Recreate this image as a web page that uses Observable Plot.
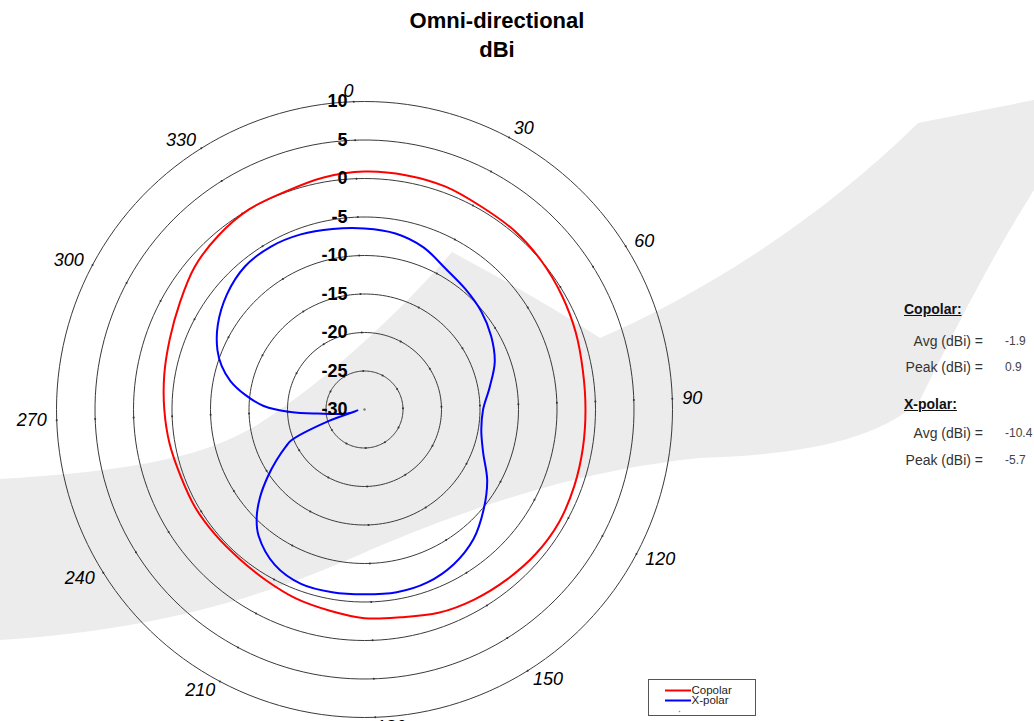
<!DOCTYPE html>
<html><head><meta charset="utf-8">
<script src="https://cdn.jsdelivr.net/npm/d3@7"></script>
<script src="https://cdn.jsdelivr.net/npm/@observablehq/plot@0.6"></script>
<style>
body{margin:0;background:#fff;font-family:Arial,"Liberation Sans",sans-serif;}
#wrap{position:relative;width:1034px;height:721px;overflow:hidden;background:#fff;}
#bg,#chart{position:absolute;left:0;top:0;}
.t{position:absolute;white-space:nowrap;}
.title{left:0;width:994px;text-align:center;font-weight:bold;font-size:22px;color:#000;line-height:29px;}
.hd{font-weight:bold;font-size:14px;text-decoration:underline;color:#111;}
.lb{font-size:14px;color:#333;text-align:right;width:90px;}
.val{font-size:12px;color:#444;}
#legend{position:absolute;left:648px;top:679px;width:106px;height:35px;border:1px solid #555;background:#fff;}
</style></head>
<body><div id="wrap">
<svg id="bg" width="1034" height="721">
  <path fill="#ececec" d="M0,479 C110,472 200,462 260,423 C330,378 400,312 452,252 C500,278 550,305 600,338 C700,295 820,220 918,123 L1034,100 L1034,190 C990,260 960,320 920,400 C880,440 800,455 700,458 C600,468 500,495 370,550 C260,600 150,630 0,640 Z"/>
</svg>
<div id="chart"></div>
<div class="t title" style="top:6px">Omni-directional</div>
<div class="t title" style="top:35px">dBi</div>
<div class="t hd" style="left:904px;top:301px">Copolar:</div>
<div class="t lb" style="left:893px;top:333px">Avg (dBi) =</div>
<div class="t val" style="left:1005px;top:334px" id="coAvg"></div>
<div class="t lb" style="left:893px;top:359px">Peak (dBi) =</div>
<div class="t val" style="left:1005px;top:360px" id="coPeak"></div>
<div class="t hd" style="left:904px;top:396px">X-polar:</div>
<div class="t lb" style="left:893px;top:425px">Avg (dBi) =</div>
<div class="t val" style="left:1005px;top:426px" id="xpAvg"></div>
<div class="t lb" style="left:893px;top:452px">Peak (dBi) =</div>
<div class="t val" style="left:1005px;top:453px" id="xpPeak"></div>
<div id="legend"></div>
</div>
<script>
// ---- data ----
const ringLevels = [-25, -20, -15, -10, -5, 0, 5, 10];
const ringLabels = [-30, -25, -20, -15, -10, -5, 0, 5, 10];
const angleTicks = [0, 30, 60, 90, 120, 150, 180, 210, 240, 270, 300, 330];

const copolarAngle = [2,12,22,32,42,52,62,72,82,92,102,112,122,132,142,152,162,172,182,192,202,212,222,232,242,252,262,272,282,292,302,312,322,332,342,352];
const copolarGain  = [0.9,0.9,0.8,0.4,0.3,0.0,-0.4,-0.8,-1.2,-1.3,-1.2,-1.0,-0.8,-0.9,-1.2,-1.5,-1.9,-2.6,-2.9,-3.5,-3.9,-4.4,-4.7,-4.7,-4.6,-4.6,-4.3,-4.0,-3.6,-3.1,-2.3,-1.2,-0.5,0.0,0.1,0.6];

const xpolarAngle = [2,12,22,32,42,52,62,72,82,92,102,112,122,132,142,152,162,172,182,192,202,212,222,227,232,237,242,247,249,254,264,259,267,270,274,279,284,289,294,302,312,322,332,342,352];
const xpolarGain  = [-6.5,-6.8,-7.6,-8.9,-9.6,-10.2,-11.0,-12.0,-13.5,-14.6,-14.6,-13.6,-11.6,-9.8,-8.0,-6.8,-6.1,-5.9,-6.0,-5.9,-5.9,-6.7,-8.6,-10.2,-12.3,-14.6,-16.8,-18.8,-19.6,-25.0,-29.1,-27.7,-23.9,-20.4,-16.9,-14.4,-12.2,-10.6,-9.4,-8.0,-6.7,-5.8,-5.6,-5.8,-6.2];

const stats = {coAvg: "-1.9", coPeak: "0.9", xpAvg: "-10.4", xpPeak: "-5.7"};
const legendItems = ["Copolar", "X-polar"];

// ---- helpers ----
const floor = -30;                      // centre of the polar grid
const lon = a => 180 - a;               // angle (clockwise from top) -> longitude
const lat = g => 90 - (g - floor);      // gain -> latitude (radius in degrees)

const co = copolarAngle.map((a, i) => ({lon: lon(a), lat: lat(copolarGain[i])}));
const xp = xpolarAngle.map((a, i) => ({lon: lon(a), lat: lat(xpolarGain[i])}));
const ticks = ringLevels.flatMap(g => angleTicks.map(a => ({lon: lon(a), lat: lat(g)})));
const pxPerUnit = 308 / 40;
const labLat = 90 - 318 / pxPerUnit;
const angleLab = angleTicks.map(a => ({a, lon: lon(a), lat: labLat}));
const rightLab = angleLab.filter(d => d.a > 0 && d.a <= 180);
const leftLab = angleLab.filter(d => !(d.a > 0 && d.a <= 180));
const font = "Arial, Liberation Sans, sans-serif";

const chart = Plot.plot({
  width: 1034, height: 721,
  marginLeft: 56, marginRight: 362, marginTop: 101, marginBottom: 4,
  style: {background: "transparent", overflow: "visible"},
  projection: {
    type: "azimuthal-equidistant",
    rotate: [2, -90],
    domain: d3.geoCircle().center([0, 90]).radius(40)(),
    clip: false
  },
  marks: [
    Plot.geo(ringLevels, {geometry: g => d3.geoCircle().center([0, 90]).radius(g - floor).precision(2)(), stroke: "#3a3a3a", strokeWidth: 1}),
    Plot.dot(ticks, {x: "lon", y: "lat", r: 1, fill: "#333", stroke: null}),
    Plot.dot([0], {x: () => 0, y: () => 90, r: 1.2, fill: "#777", stroke: null}),
    Plot.line(co, {x: "lon", y: "lat", stroke: "#ff0000", strokeWidth: 2, curve: "catmull-rom-closed"}),
    Plot.line(xp, {x: "lon", y: "lat", stroke: "#0000ff", strokeWidth: 2, curve: "catmull-rom-closed"}),
    Plot.text(ringLabels, {x: () => lon(2), y: g => lat(g), text: g => String(g), textAnchor: "end", dx: -17, fontWeight: "bold", fontSize: 18, fill: "#000", fontFamily: font}),
    Plot.text(rightLab, {x: "lon", y: "lat", text: d => String(d.a), textAnchor: "start", fontStyle: "italic", fontSize: 18, fill: "#000", fontFamily: font}),
    Plot.text(leftLab, {x: "lon", y: "lat", text: d => String(d.a), textAnchor: "end", fontStyle: "italic", fontSize: 18, fill: "#000", fontFamily: font})
  ]
});
document.getElementById("chart").appendChild(chart);
for (const k in stats) document.getElementById(k).textContent = stats[k];

// legend (small Plot)
const leg = Plot.plot({
  width: 106, height: 35, margin: 0,
  x: {domain: [0, 106], axis: null}, y: {domain: [35, 0], axis: null},
  marks: [
    Plot.ruleY(legendItems, {x1: 16, x2: 42, y: (d, i) => 10 + i * 10, stroke: (d, i) => i ? "#0000ff" : "#ff0000", strokeWidth: 2}),
    Plot.text(legendItems, {x: 42, y: (d, i) => 10 + i * 10, text: d => d, textAnchor: "start", fontSize: 11.5, fill: "#222", fontFamily: font}),
    Plot.dot([0], {x: 30, y: 31, r: 0.8, fill: "#888", stroke: null})
  ]
});
document.getElementById("legend").appendChild(leg);
</script>
</body></html>
